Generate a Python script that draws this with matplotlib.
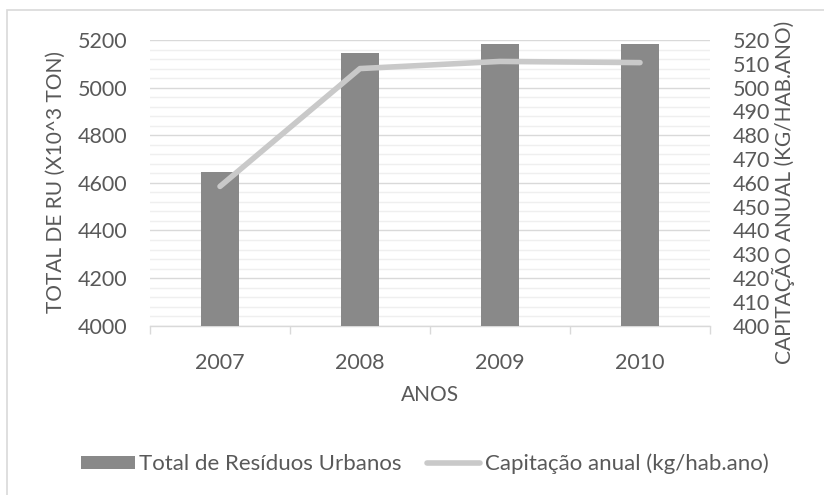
import matplotlib
matplotlib.use("Agg")
import matplotlib.pyplot as plt
from matplotlib.patches import Rectangle, Patch
from matplotlib.lines import Line2D
import numpy as np

years = ["2007", "2008", "2009", "2010"]
total_ru = [4645, 5144, 5182, 5182]
capitacao = [458.5, 508, 511, 510.5]
left_ticks = [4000, 4200, 4400, 4600, 4800, 5000, 5200]
right_ticks = list(range(400, 521, 10))

TXT = "#595959"
BAR = "#898989"
LINE = "#c9c9c9"
GRID = "#d9d9d9"
MINOR = "#efefef"

plt.rcParams['font.family'] = ['Lato', 'DejaVu Sans']
FS = 15.5
LFS = 15
GFS = 16

W, H = 824, 495
fig = plt.figure(figsize=(W/100, H/100), dpi=100)
fig.patch.set_facecolor("white")

# outer frame (light border on top and left, as in the reference crop)
fig.patches.append(Rectangle((7/W, -0.1), 1.2, (H-10)/H + 0.1, transform=fig.transFigure,
                             fill=False, edgecolor=GRID, linewidth=1.2))

ax = fig.add_axes([150/W, 1-325.7/H, 560/W, (325.7-40)/H])
x = np.arange(len(years))
ax.bar(x, total_ru, width=0.27, color=BAR, zorder=3)
ax.set_xlim(-0.5, len(years)-0.5)
ax.set_ylim(4000, 5200)
ax.set_yticks(left_ticks)
ax.set_yticks(np.arange(4000, 5201, 40), minor=True)
ax.yaxis.grid(True, which='major', color=GRID, linewidth=1.0, zorder=0)
ax.yaxis.grid(True, which='minor', color=MINOR, linewidth=1.0, zorder=0)
ax.set_axisbelow(True)
ax.set_xticks(x)
ax.set_xticklabels(years)
ax.set_xticks(np.arange(-0.5, len(years), 1.0), minor=True)
ax.tick_params(axis='x', which='major', length=0, pad=20, labelsize=FS, labelcolor=TXT)
ax.tick_params(axis='x', which='minor', length=6, color=GRID, width=1.0)
ax.tick_params(axis='y', which='both', length=0, pad=16, labelsize=FS, labelcolor=TXT)
for s in ['top', 'left', 'right']:
    ax.spines[s].set_visible(False)
ax.spines['bottom'].set_color(GRID)
ax.spines['bottom'].set_linewidth(1.0)
ax.set_xlabel("ANOS", fontsize=LFS, color=TXT, labelpad=8)

ax2 = ax.twinx()
ax2.plot(x, capitacao, color=LINE, linewidth=4.0, solid_capstyle='round',
         solid_joinstyle='round', zorder=4)
ax2.set_ylim(400, 520)
ax2.set_yticks(right_ticks)
ax2.tick_params(axis='y', length=0, pad=16.5, labelsize=FS, labelcolor=TXT)
for s in ax2.spines.values():
    s.set_visible(False)

fig.text(56/W, 1-182/H, "TOTAL DE RU (X10^3 TON)", rotation=90, ha='center', va='center',
         fontsize=LFS, color=TXT)
fig.text(783/W, 1-192/H, "CAPITAÇÃO ANUAL (KG/HAB.ANO)", rotation=90, ha='center', va='center',
         fontsize=LFS, color=TXT)

handles = [Patch(facecolor=BAR, edgecolor='none'),
           Line2D([0], [0], color=LINE, linewidth=4.0, solid_capstyle='round')]
leg = fig.legend(handles, ["Total de Resíduos Urbanos", "Capitação anual (kg/hab.ano)"],
                 loc='center', bbox_to_anchor=(425/W, 1-464/H), ncol=2, frameon=False,
                 fontsize=GFS, handlelength=2.4, handleheight=0.55, handletextpad=0.2,
                 columnspacing=1.15, labelcolor=TXT)

fig.savefig("out.png", dpi=100, facecolor="white")
